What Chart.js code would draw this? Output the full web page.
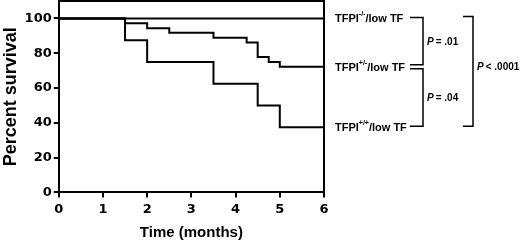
<!DOCTYPE html>
<html>
<head>
<meta charset="utf-8">
<script src="https://cdn.jsdelivr.net/npm/chart.js@4.4.0/dist/chart.umd.min.js"></script>
<style>
  html, body { margin: 0; padding: 0; background: #fff; }
  #wrap { width: 520px; height: 245px; }
</style>
</head>
<body>
<div id="wrap"><canvas id="canvas"></canvas></div>
<script>
// dữ liệu (thời điểm bước, % sống sót)
const timesKO = [0, 6];
const survKO = [100, 100];

const timesHet = [0, 1.5, 2, 2.5, 3.5, 4.25, 4.5, 4.75, 5, 6];
const survHet = [100, 97.2, 94.4, 91.7, 88.9, 86.1, 77.8, 75, 72.2, 72.2];

const timesWT = [0, 1.5, 2, 3.5, 4.5, 5, 6];
const survWT = [100, 87.5, 75, 62.5, 50, 37.5, 37.5];

const xTicks = [0, 1, 2, 3, 4, 5, 6];
const yTicks = [0, 20, 40, 60, 80, 100];

const seriesNames = ["TFPI-/-", "TFPI+/-", "TFPI+/+"];
const superscripts = ["-/-", "+/-", "+/+"];
const pLabels = ["= .01", "= .04", "< .0001"];

const FONT = "Liberation Sans, Arial, sans-serif";
const TICK_FONT = "DejaVu Sans, sans-serif";

function toPoints(xs, ys) {
  return xs.map((x, i) => ({ x: x, y: ys[i] }));
}

function stepSet(label, xs, ys) {
  return {
    label: label,
    data: toPoints(xs, ys),
    borderColor: "#000",
    borderWidth: 2,
    pointRadius: 0,
    stepped: "before",
    fill: false,
  };
}

// vẽ nhãn bên phải + ngoặc giá trị P
const annotations = {
  id: "annotations",
  afterDraw(chart) {
    const c = chart.ctx;
    const area = chart.chartArea;
    const ys = chart.scales.y;

    // khung trên và phải
    c.save();
    c.strokeStyle = "#000";
    c.lineWidth = 2;
    c.beginPath();
    c.moveTo(area.left, area.top);
    c.lineTo(area.right, area.top);
    c.lineTo(area.right, area.bottom);
    c.stroke();

    const ends = [survKO[survKO.length - 1], survHet[survHet.length - 1], survWT[survWT.length - 1]];
    const tx = area.right + 11;
    const dashX0 = area.right + 86;
    const brX = area.right + 99;
    const rows = ends.map((v) => ys.getPixelForValue(v));

    c.fillStyle = "#000";
    c.textBaseline = "middle";
    c.textAlign = "left";
    rows.forEach((y, i) => {
      let x = tx;
      c.font = "bold 11px " + FONT;
      c.fillText("TFPI", x, y + 1);
      x += c.measureText("TFPI").width;
      c.font = "bold 7px " + FONT;
      c.fillText(superscripts[i], x, y - 4);
      x += c.measureText(superscripts[i]).width;
      c.font = "bold 11px " + FONT;
      c.fillText("/low TF", x, y + 1);
    });

    c.lineWidth = 1.5;
    c.beginPath();
    // ngoặc 1: -/- vs +/-
    c.moveTo(dashX0, rows[0] - 1);
    c.lineTo(brX, rows[0] - 1);
    c.lineTo(brX, rows[1] - 2);
    c.lineTo(dashX0, rows[1] - 2);
    // ngoặc 2: +/- vs +/+
    c.moveTo(dashX0, rows[1] + 2);
    c.lineTo(brX, rows[1] + 2);
    c.lineTo(brX, rows[2] - 1);
    c.lineTo(dashX0, rows[2] - 1);
    // ngoặc lớn
    const bigX = area.right + 149;
    c.moveTo(bigX - 10, rows[0] - 2);
    c.lineTo(bigX, rows[0] - 2);
    c.lineTo(bigX, rows[2] - 1);
    c.lineTo(bigX - 10, rows[2] - 1);
    c.stroke();

    const pText = (x, y, rest) => {
      c.font = "italic bold 10px " + FONT;
      c.fillText("P", x, y);
      x += c.measureText("P").width + 2;
      c.font = "bold 10px " + FONT;
      c.fillText(rest, x, y);
    };
    pText(brX + 4, (rows[0] + rows[1]) / 2, pLabels[0]);
    pText(brX + 4, (rows[1] + rows[2]) / 2 + 1, pLabels[1]);
    pText(bigX + 4, rows[1], pLabels[2]);
    c.restore();
  },
};

const tickFont = { size: 13, weight: "bold", family: TICK_FONT };
const titleFont = { size: 15, weight: "bold", family: FONT };

new Chart(document.getElementById("canvas").getContext("2d"), {
  type: "line",
  data: {
    datasets: [
      stepSet(seriesNames[0], timesKO, survKO),
      stepSet(seriesNames[1], timesHet, survHet),
      stepSet(seriesNames[2], timesWT, survWT),
    ],
  },
  options: {
    responsive: true,
    maintainAspectRatio: false,
    animation: false,
    layout: {
      padding: { top: 1, right: 196, bottom: 3, left: 0 },
    },
    plugins: {
      legend: { display: false },
      tooltip: { enabled: false },
    },
    scales: {
      x: {
        type: "linear",
        min: 0,
        max: 6,
        afterBuildTicks: (s) => {
          s.ticks = xTicks.map((v) => ({ value: v }));
        },
        ticks: { color: "#000", font: tickFont, padding: 4 },
        grid: { drawOnChartArea: false, tickLength: 5, color: "#000", lineWidth: 2 },
        border: { color: "#000", width: 2 },
        title: { display: true, text: "Time (months)", color: "#000", font: titleFont, padding: { top: 3, bottom: 0 } },
      },
      y: {
        min: 0,
        max: 110,
        afterBuildTicks: (s) => {
          s.ticks = yTicks.map((v) => ({ value: v }));
        },
        afterFit: (s) => {
          s.paddingTop = 0;
        },
        ticks: { color: "#000", font: tickFont, padding: 2 },
        grid: { drawOnChartArea: false, tickLength: 5, color: "#000", lineWidth: 2 },
        border: { color: "#000", width: 2 },
        title: { display: true, text: "Percent survival", color: "#000", font: { size: 18, weight: "bold", family: FONT }, padding: { top: 0, bottom: 1 } },
      },
    },
  },
  plugins: [annotations],
});
</script>
</body>
</html>
